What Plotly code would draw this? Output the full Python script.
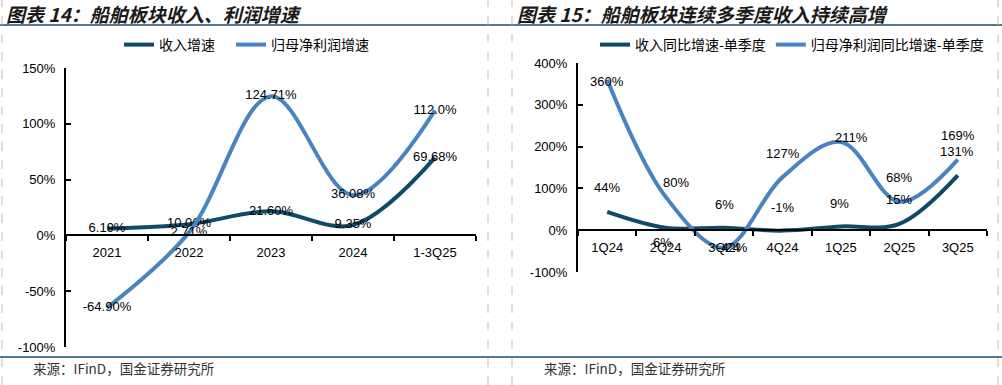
import plotly.graph_objects as go

# ---------------- data ----------------
years = ["2021", "2022", "2023", "2024", "1-3Q25"]
rev_growth = [6.19, 10.06, 21.60, 9.35, 69.68]
profit_growth = [-64.90, 2.71, 124.71, 36.08, 112.0]
rev_labels = ["6.19%", "10.06%", "21.60%", "9.35%", "69.68%"]
profit_labels = ["-64.90%", "2.71%", "124.71%", "36.08%", "112.0%"]

quarters = ["1Q24", "2Q24", "3Q24", "4Q24", "1Q25", "2Q25", "3Q25"]
rev_q = [44, 6, 6, -1, 9, 15, 131]
profit_q = [360, 80, -42, 127, 211, 68, 169]

left_yticks = [-100, -50, 0, 50, 100, 150]
right_yticks = [-100, 0, 100, 200, 300, 400]

# label offsets (style, px) for right chart
rev_q_shift = [(0, 24), (-3, -15), (0, 23), (0, 23), (-1, 23), (0, 24), (-1, 24)]
profit_q_shift = [(0, -2), (10, 14), (8, 0), (0, 24), (11, 4), (0, 24), (0, 24)]

# ---------------- style ----------------
W, H = 1002, 385
C_REV = "#0F4A6B"
C_PROFIT = "#4884C2"
C_RULE = "#1B4D6E"
TICK_FONT = dict(family="Liberation Sans, Arial", size=13, color="#000000")
CJK = "Noto Sans CJK SC"


def px_x(p):
    return p / W


def px_y(p):
    return 1 - p / H


L_XDOM = [px_x(66), px_x(476)]
L_YDOM = [px_y(347), px_y(68)]
R_XDOM = [px_x(578), px_x(987)]
R_YDOM = [px_y(272), px_y(63)]
L_RANGE = [-100, 150]
R_RANGE = [-100, 400]


def zero_pos(dom, rng):
    return dom[0] + (0 - rng[0]) / (rng[1] - rng[0]) * (dom[1] - dom[0])


fig = go.Figure()

fig.add_trace(go.Scatter(
    x=years, y=rev_growth, name="收入增速", mode="lines+text",
    text=rev_labels, textposition="middle center", textfont=TICK_FONT,
    line=dict(color=C_REV, width=4, shape="spline", smoothing=1.0),
    xaxis="x", yaxis="y", legend="legend", cliponaxis=False))
fig.add_trace(go.Scatter(
    x=years, y=profit_growth, name="归母净利润增速", mode="lines+text",
    text=profit_labels, textposition="middle center", textfont=TICK_FONT,
    line=dict(color=C_PROFIT, width=4, shape="spline", smoothing=1.0),
    xaxis="x", yaxis="y", legend="legend3", cliponaxis=False))

fig.add_trace(go.Scatter(
    x=quarters, y=rev_q, name="收入同比增速-单季度", mode="lines",
    line=dict(color=C_REV, width=4, shape="spline", smoothing=1.0),
    xaxis="x2", yaxis="y2", legend="legend2", cliponaxis=False))
fig.add_trace(go.Scatter(
    x=quarters, y=profit_q, name="归母净利润同比增速-单季度", mode="lines",
    line=dict(color=C_PROFIT, width=4, shape="spline", smoothing=1.0),
    xaxis="x2", yaxis="y2", legend="legend2", cliponaxis=False))

annotations = []
for i, q in enumerate(quarters):
    annotations.append(dict(x=q, y=rev_q[i], xref="x2", yref="y2", text=f"{rev_q[i]}%",
                            showarrow=False, font=TICK_FONT,
                            xshift=rev_q_shift[i][0], yshift=rev_q_shift[i][1]))
    annotations.append(dict(x=q, y=profit_q[i], xref="x2", yref="y2", text=f"{profit_q[i]}%",
                            showarrow=False, font=TICK_FONT,
                            xshift=profit_q_shift[i][0], yshift=profit_q_shift[i][1]))

title_font = dict(family=CJK, size=19, color="#1A1A1A", weight="bold", style="italic")
annotations.append(dict(x=px_x(4), y=px_y(13), xref="paper", yref="paper", xanchor="left",
                        yanchor="middle", showarrow=False, text="图表 14：船舶板块收入、利润增速",
                        font=title_font))
annotations.append(dict(x=px_x(515), y=px_y(13), xref="paper", yref="paper", xanchor="left",
                        yanchor="middle", showarrow=False, text="图表 15：船舶板块连续多季度收入持续高增",
                        font=title_font))
foot_font = dict(family=CJK, size=13.5, color="#333333")
annotations.append(dict(x=px_x(31), y=px_y(368), xref="paper", yref="paper", xanchor="left",
                        yanchor="middle", showarrow=False, text="来源：IFinD，国金证券研究所",
                        font=foot_font))
annotations.append(dict(x=px_x(542), y=px_y(368), xref="paper", yref="paper", xanchor="left",
                        yanchor="middle", showarrow=False, text="来源：IFinD，国金证券研究所",
                        font=foot_font))

shapes = []
# title rule and footer rule
for yy in (25, 357):
    shapes.append(dict(type="line", xref="paper", yref="paper", x0=0, x1=1,
                       y0=px_y(yy), y1=px_y(yy), line=dict(color=C_RULE, width=1.5)))
# dashed panel borders
for xx in (2, 488, 512, 998):
    shapes.append(dict(type="line", xref="paper", yref="paper", x0=px_x(xx), x1=px_x(xx),
                       y0=0, y1=1, line=dict(color="#BFBFBF", width=1, dash="dash")))

common_x = dict(type="category", showline=True, linecolor="#000000", linewidth=2,
                ticks="outside", ticklen=5, tickwidth=2, tickcolor="#000000",
                tickson="boundaries", showgrid=False, zeroline=False,
                tickfont=TICK_FONT, anchor="free", ticklabelstandoff=5)
common_y = dict(showline=True, linecolor="#000000", linewidth=2, ticks="inside",
                ticklen=5, tickwidth=2, tickcolor="#000000", showgrid=False,
                zeroline=False, tickfont=TICK_FONT, ticklabelstandoff=6)

legend_common = dict(orientation="h", yanchor="middle", xanchor="left",
                     font=dict(family=CJK, size=14, color="#000000"),
                     bgcolor="rgba(0,0,0,0)", itemclick=False, itemdoubleclick=False)

fig.update_layout(
    width=W, height=H, margin=dict(l=0, r=0, t=0, b=0, autoexpand=False),
    paper_bgcolor="#FFFFFF", plot_bgcolor="#FFFFFF",
    showlegend=True,
    xaxis=dict(common_x, domain=L_XDOM, range=[-0.5, len(years) - 0.5],
               position=zero_pos(L_YDOM, L_RANGE)),
    yaxis=dict(common_y, domain=L_YDOM, range=L_RANGE, anchor="x",
               tickvals=left_yticks, ticktext=[f"{v}%" for v in left_yticks]),
    xaxis2=dict(common_x, domain=R_XDOM, range=[-0.5, len(quarters) - 0.5],
                position=zero_pos(R_YDOM, R_RANGE)),
    yaxis2=dict(common_y, domain=R_YDOM, range=R_RANGE, anchor="x2",
                tickvals=right_yticks, ticktext=[f"{v}%" for v in right_yticks]),
    legend=dict(legend_common, x=px_x(119), y=px_y(45)),
    legend3=dict(legend_common, x=px_x(231), y=px_y(45)),
    legend2=dict(legend_common, x=px_x(595), y=px_y(45)),
    annotations=annotations, shapes=shapes,
)

fig.write_html("out.html", config={"displayModeBar": False},
               post_script="document.body.style.margin='0';document.body.style.overflow='hidden';")
